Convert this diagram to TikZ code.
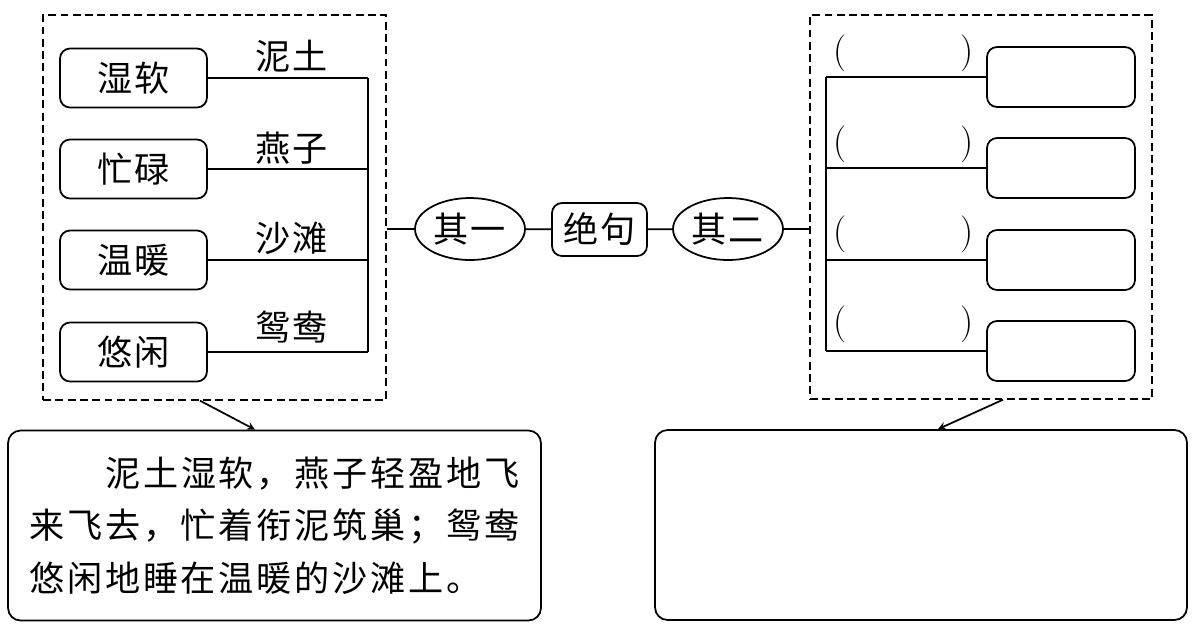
\documentclass[tikz,border=0pt]{standalone}
\usepackage{fontspec}
\newfontfamily\cjk[LetterSpace=5]{Noto Sans CJK SC}
\newfontfamily\cjkwide[LetterSpace=8]{Noto Sans CJK SC}
\usetikzlibrary{shapes.geometric}

\begin{document}
\begin{tikzpicture}[>=stealth,x=0.02cm,y=-0.02cm,line width=1pt,
    every node/.style={font=\cjk\fontsize{20}{22}\selectfont},
    dashbox/.style={draw,dash pattern=on 4.5pt off 2.5pt,line width=0.8pt},
    wordbox/.style={draw,rounded corners=0.2cm,minimum width=2.94cm,minimum height=1.18cm},
    blankbox/.style={draw,rounded corners=0.2cm,minimum width=2.96cm,minimum height=1.2cm},
    poembox/.style={draw,ellipse,minimum width=2.2cm,minimum height=1.24cm,inner sep=0pt},
    notebox/.style={draw,rounded corners=0.25cm,minimum width=10.66cm,minimum height=3.8cm},
    paren/.style={font=\fontsize{21}{24}\selectfont,inner sep=0pt}]
    \useasboundingbox (0,0) rectangle (1199,630);
    \node[dashbox,minimum width=6.86cm,minimum height=7.7cm] (left) at (214.5,207.5) {};
    \node[dashbox,minimum width=6.84cm,minimum height=7.68cm] (right) at (981,207) {};
    \node[wordbox] (shiruan) at (133.5,78) {湿软};
    \node[wordbox] (manglu) at (133.5,169) {忙碌};
    \node[wordbox] (wennuan) at (133.5,260) {温暖};
    \node[wordbox] (youxian) at (133.5,352) {悠闲};
    \node (nitu) at (292,56) {泥土};
    \node (yanzi) at (292,148) {燕子};
    \node (shatan) at (292,238) {沙滩};
    \node (yuanyang) at (292,327) {鸳鸯};
    \coordinate (ltrunk) at (368,0);
    \draw (shiruan.east) -- (shiruan.east -| ltrunk);
    \draw (manglu.east) -- (manglu.east -| ltrunk);
    \draw (wennuan.east) -- (wennuan.east -| ltrunk);
    \draw (youxian.east) -- (youxian.east -| ltrunk);
    \draw (shiruan.east -| ltrunk) -- (youxian.east -| ltrunk);
    \node[poembox] (qiyi) at (470,229) {其一};
    \node[draw,rounded corners=0.2cm,minimum width=1.9cm,minimum height=1.06cm] (jueju) at (599.5,229.5) {绝句};
    \node[poembox] (qier) at (728,229) {其二};
    \draw (left.east |- qiyi) -- (qiyi);
    \draw (qiyi) -- (jueju);
    \draw (jueju) -- (qier);
    \draw (qier) -- (right.west |- qier);
    \node[blankbox] (kong1) at (1061,77) {};
    \node[blankbox] (kong2) at (1061,168) {};
    \node[blankbox] (kong3) at (1061,260) {};
    \node[blankbox] (kong4) at (1061,351) {};
    \node[paren] (lp1) at (840,53) {(};
    \node[paren] (rp1) at (967,53) {)};
    \node[paren] (lp2) at (840,144) {(};
    \node[paren] (rp2) at (967,144) {)};
    \node[paren] (lp3) at (840,234) {(};
    \node[paren] (rp3) at (967,234) {)};
    \node[paren] (lp4) at (840,324) {(};
    \node[paren] (rp4) at (967,324) {)};
    \coordinate (rtrunk) at (826,0);
    \draw (kong1.west -| rtrunk) -- (kong1.west);
    \draw (kong2.west -| rtrunk) -- (kong2.west);
    \draw (kong3.west -| rtrunk) -- (kong3.west);
    \draw (kong4.west -| rtrunk) -- (kong4.west);
    \draw (kong1.west -| rtrunk) -- (kong4.west -| rtrunk);
    \node[notebox,align=left,font=\cjkwide\fontsize{20}{30}\selectfont] (lnote) at (274.5,525.5)
        {\hspace*{1.52cm}泥土湿软，燕子轻盈地飞\\来飞去，忙着衔泥筑巢；鸳鸯\\悠闲地睡在温暖的沙滩上。};
    \node[notebox,minimum width=10.64cm] (rnote) at (921,525) {};
    \coordinate (la) at (200,0);
    \coordinate (lb) at (255,0);
    \draw[->] (left.south -| la) -- (lnote.north -| lb);
    \coordinate (ra) at (1003,0);
    \coordinate (rb) at (938,0);
    \draw[->] (right.south -| ra) -- (rnote.north -| rb);
\end{tikzpicture}
\end{document}
